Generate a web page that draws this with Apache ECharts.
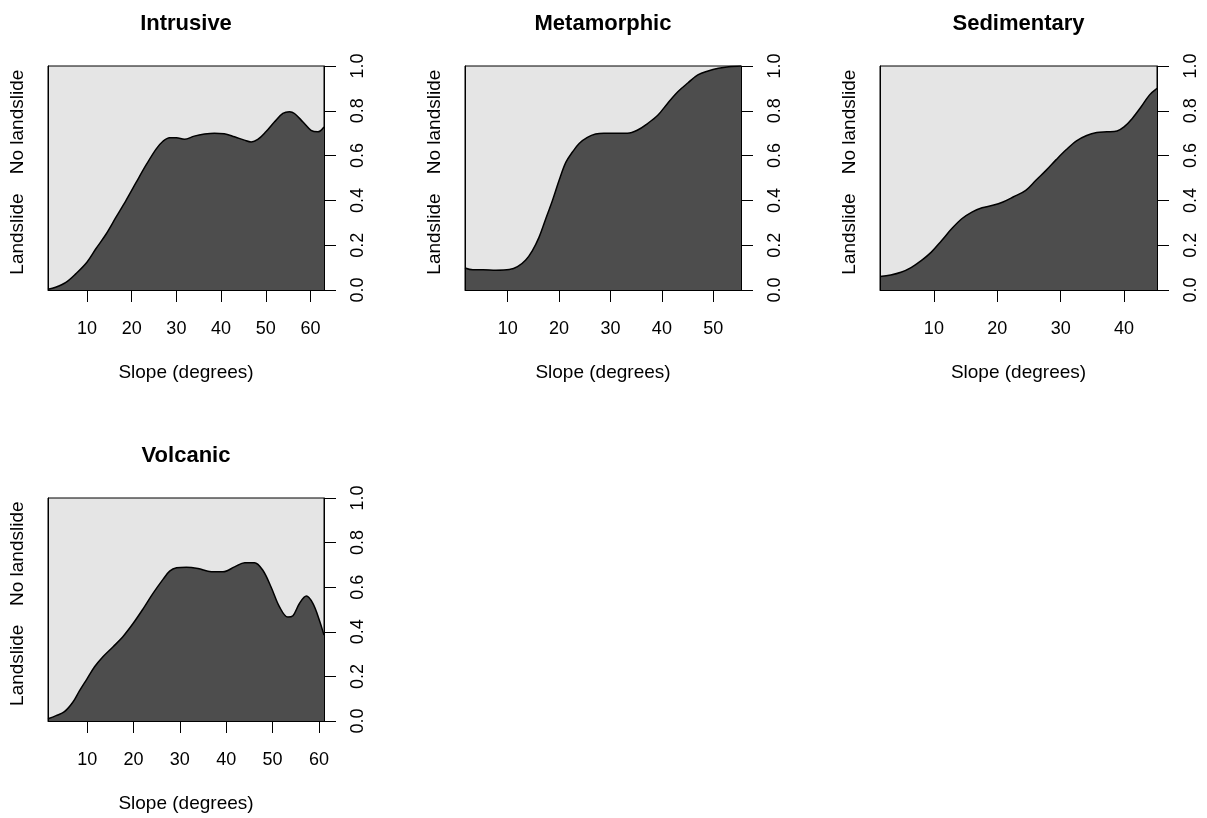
<!DOCTYPE html>
<html>
<head>
<meta charset="utf-8">
<script src="https://cdn.jsdelivr.net/npm/echarts@6/dist/echarts.min.js"></script>
<style>
html,body{margin:0;padding:0;background:#ffffff;}
#chart{width:1207px;height:818px;}
</style>
</head>
<body>
<div id="chart"></div>
<script>
// ---------- data ----------
const panelTitles = ['Intrusive', 'Metamorphic', 'Sedimentary', 'Volcanic'];
const xAxisTitle = 'Slope (degrees)';
const classLabels = ['Landslide', 'No landslide'];
const classLabelPos = [0.25, 0.75];
const probTicks = [0, 0.2, 0.4, 0.6, 0.8, 1.0];

const intrusiveTicks = [10, 20, 30, 40, 50, 60];
const metamorphicTicks = [10, 20, 30, 40, 50];
const sedimentaryTicks = [10, 20, 30, 40];
const volcanicTicks = [10, 20, 30, 40, 50, 60];

const intrusiveSlope = [1.3, 3.0, 5.3, 7.5, 10, 12, 14.3, 16.5, 18.75, 21, 23.2, 25.5, 27, 28.5, 30, 31.8, 34, 36.3, 38.5, 40.7, 43, 45.2, 46.7, 48.2, 50, 51.9, 53.8, 55.3, 56.4, 58.3, 60.1, 61.6, 63.0];
const intrusiveProb  = [0.003, 0.012, 0.034, 0.072, 0.124, 0.184, 0.25, 0.325, 0.40, 0.48, 0.557, 0.63, 0.664, 0.68, 0.68, 0.673, 0.687, 0.696, 0.70, 0.698, 0.684, 0.669, 0.661, 0.672, 0.706, 0.75, 0.788, 0.796, 0.788, 0.75, 0.713, 0.706, 0.728];

const metamorphicSlope = [1.68, 3.2, 5.2, 7.7, 10.3, 11.9, 13.5, 14.8, 16.1, 17.4, 18.7, 20, 21.3, 22.6, 23.9, 25.5, 27.1, 28.7, 31.3, 33.3, 35.2, 37.2, 39.2, 41.1, 43.1, 45.1, 47, 49, 51, 53, 55.4];
const metamorphicProb  = [0.098, 0.09, 0.09, 0.088, 0.091, 0.104, 0.134, 0.176, 0.236, 0.318, 0.40, 0.49, 0.57, 0.616, 0.654, 0.681, 0.696, 0.70, 0.70, 0.70, 0.713, 0.743, 0.78, 0.833, 0.885, 0.925, 0.96, 0.978, 0.99, 0.997, 1.0];

const sedimentarySlope = [1.5, 3.2, 4.8, 6.4, 8, 9.6, 11.2, 12.8, 14.4, 16, 17.6, 19.3, 20.9, 22.5, 24.5, 26.1, 27.7, 29.3, 30.9, 32.5, 34.1, 35.7, 37.3, 38.9, 40, 41.3, 42.7, 44, 45.2];
const sedimentaryProb  = [0.06, 0.067, 0.079, 0.10, 0.131, 0.169, 0.22, 0.273, 0.318, 0.348, 0.367, 0.378, 0.393, 0.415, 0.445, 0.49, 0.534, 0.582, 0.627, 0.666, 0.69, 0.703, 0.706, 0.71, 0.728, 0.766, 0.818, 0.87, 0.90];

const volcanicSlope = [1.55, 3.3, 5.1, 6.9, 8.3, 10, 11.6, 13.4, 15.6, 17.7, 19.9, 22.1, 24.2, 26.4, 27.8, 29.3, 31.4, 33.9, 36.8, 39.3, 41.8, 44, 46.1, 47.9, 49.7, 51.5, 53.3, 54.4, 55.8, 57.3, 58.7, 60.1, 61.1];
const volcanicProb  = [0.01, 0.024, 0.042, 0.084, 0.134, 0.19, 0.243, 0.288, 0.333, 0.378, 0.437, 0.504, 0.572, 0.636, 0.672, 0.687, 0.69, 0.684, 0.669, 0.669, 0.691, 0.71, 0.71, 0.676, 0.60, 0.512, 0.466, 0.472, 0.527, 0.56, 0.527, 0.452, 0.385];

// ---------- layout / style ----------
const FONT = 'Liberation Sans, Arial, sans-serif';
const TICK_FS = 18;
const LAB_FS = 19;
const TITLE_FS = 22;
const boxes = [
  {left: 48,  top: 66,  width: 276, height: 224},
  {left: 465, top: 66,  width: 276, height: 224},
  {left: 880, top: 66,  width: 277, height: 224},
  {left: 48,  top: 498, width: 276, height: 223}
];
const panelSlopes = [intrusiveSlope, metamorphicSlope, sedimentarySlope, volcanicSlope];
const panelProbs = [intrusiveProb, metamorphicProb, sedimentaryProb, volcanicProb];
const panelTicks = [intrusiveTicks, metamorphicTicks, sedimentaryTicks, volcanicTicks];

const grid = [], xAxis = [], yAxis = [], series = [], title = [];
boxes.forEach(function (b, i) {
  const xs = panelSlopes[i], ps = panelProbs[i];
  grid.push({
    left: b.left, top: b.top, width: b.width, height: b.height,
    show: true, backgroundColor: '#e5e5e5', borderColor: '#000', borderWidth: 1,
    containLabel: false
  });
  title.push({
    text: panelTitles[i],
    left: b.left + b.width / 2, top: b.top - 53, textAlign: 'center', padding: 0,
    textStyle: {fontFamily: FONT, fontSize: TITLE_FS, fontWeight: 'bold', color: '#000'}
  });
  xAxis.push({
    type: 'value', gridIndex: i, min: xs[0], max: xs[xs.length - 1], z: 10,
    name: xAxisTitle, nameLocation: 'middle', nameGap: 73,
    nameTextStyle: {fontFamily: FONT, fontSize: LAB_FS, color: '#000'},
    axisLine: {show: true, onZero: false, lineStyle: {color: '#000', width: 1}},
    axisTick: {show: true, length: 12, lineStyle: {color: '#000', width: 1}, customValues: panelTicks[i]},
    axisLabel: {show: true, margin: 30, fontFamily: FONT, fontSize: TICK_FS, color: '#000', customValues: panelTicks[i]},
    splitLine: {show: false}
  });
  // right probability axis
  yAxis.push({
    type: 'value', gridIndex: i, position: 'right', min: 0, max: 1, interval: 0.2, z: 10,
    axisLine: {show: true, lineStyle: {color: '#000', width: 1}},
    axisTick: {show: true, length: 12, lineStyle: {color: '#000', width: 1}, customValues: probTicks},
    axisLabel: {show: true, rotate: 90, margin: 25, fontFamily: FONT, fontSize: TICK_FS, color: '#000',
      customValues: probTicks, formatter: function (v) { return v.toFixed(1); }},
    splitLine: {show: false}
  });
  // left class-label axis
  yAxis.push({
    type: 'value', gridIndex: i, position: 'left', min: 0, max: 1, z: 10,
    axisLine: {show: true, lineStyle: {color: '#000', width: 1}},
    axisTick: {show: false},
    axisLabel: {show: true, rotate: 90, margin: 21, fontFamily: FONT, fontSize: LAB_FS, color: '#000',
      customValues: classLabelPos,
      formatter: function (v) { const k = classLabelPos.indexOf(v); return k >= 0 ? classLabels[k] : ''; }},
    splitLine: {show: false}
  });
  series.push({
    type: 'line', xAxisIndex: i, yAxisIndex: 2 * i,
    data: xs.map(function (x, k) { return [x, ps[k]]; }),
    smooth: 0.35, showSymbol: false, symbol: 'none',
    lineStyle: {color: '#000', width: 1.5},
    areaStyle: {color: '#4d4d4d', opacity: 1, origin: 'start'},
    silent: true, animation: false
  });
});

const chart = echarts.init(document.getElementById('chart'), null, {renderer: 'canvas'});
chart.setOption({
  animation: false,
  backgroundColor: '#ffffff',
  title: title, grid: grid, xAxis: xAxis, yAxis: yAxis, series: series
});
</script>
</body>
</html>
